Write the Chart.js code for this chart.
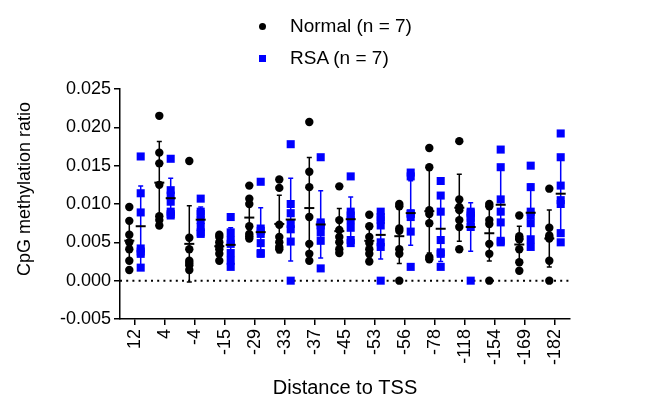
<!DOCTYPE html>
<html>
<head>
<meta charset="utf-8">
<script src="https://cdn.jsdelivr.net/npm/chart.js@4"></script>
<style>
body{margin:0;background:#fff}
#wrap{position:relative;width:649px;height:407px}
#legend{position:absolute;left:259px;top:10px;font:19px "Liberation Sans",Arial,sans-serif;color:#000}
.item{display:flex;align-items:center;height:32px;line-height:32px}
.mark{width:7px;height:7px;margin-right:24px}
</style>
</head>
<body>
<div id="wrap">
<canvas id="chart" width="649" height="407"></canvas>
<div id="legend"></div>
</div>
<script>
const categories = ['12','4','-4','-15','-29','-33','-37','-45','-53','-56','-78','-118','-154','-169','-182']

const seriesNames = ['Normal (n = 7)','RSA (n = 7)']

// one row per category, 7 samples each
const normalValues = [
[0.0096,0.0078,0.0060,0.0050,0.0041,0.0026,0.0014],
[0.0215,0.0167,0.0153,0.0125,0.0084,0.0079,0.0072],
[0.0156,0.0056,0.0041,0.0026,0.0023,0.0020,0.0014],
[0.0060,0.0057,0.0050,0.0045,0.0041,0.0035,0.0026],
[0.0124,0.0107,0.0100,0.0071,0.0061,0.0058,0.0055],
[0.0132,0.0121,0.0073,0.0057,0.0050,0.0044,0.0041],
[0.0207,0.0142,0.0122,0.0083,0.0048,0.0035,0.0026],
[0.0123,0.0079,0.0066,0.0057,0.0050,0.0041,0.0036],
[0.0086,0.0071,0.0057,0.0049,0.0041,0.0035,0.0025],
[0.0100,0.0097,0.0068,0.0065,0.0041,0.0035,0.0000],
[0.0173,0.0148,0.0092,0.0087,0.0075,0.0031,0.0028],
[0.0182,0.0106,0.0096,0.0092,0.0079,0.0070,0.0041],
[0.0100,0.0097,0.0079,0.0074,0.0048,0.0035,0.0000],
[0.0085,0.0058,0.0055,0.0054,0.0041,0.0024,0.0013],
[0.0120,0.0069,0.0059,0.0056,0.0055,0.0026,0.0000]
]

const rsaValues = [
[0.0162,0.0114,0.0089,0.0042,0.0038,0.0035,0.0017],
[0.0159,0.0118,0.0111,0.0103,0.0090,0.0087,0.0085],
[0.0107,0.0090,0.0087,0.0079,0.0070,0.0063,0.0061],
[0.0083,0.0063,0.0053,0.0048,0.0036,0.0026,0.0018],
[0.0129,0.0068,0.0065,0.0061,0.0049,0.0036,0.0035],
[0.0178,0.0100,0.0088,0.0074,0.0067,0.0051,0.0000],
[0.0161,0.0076,0.0073,0.0072,0.0063,0.0052,0.0016],
[0.0136,0.0090,0.0085,0.0079,0.0069,0.0053,0.0049],
[0.0090,0.0083,0.0079,0.0072,0.0050,0.0044,0.0000],
[0.0141,0.0136,0.0088,0.0087,0.0083,0.0064,0.0018],
[0.0130,0.0111,0.0090,0.0053,0.0037,0.0035,0.0018],
[0.0090,0.0088,0.0085,0.0082,0.0075,0.0070,0.0000],
[0.0171,0.0148,0.0106,0.0090,0.0076,0.0052,0.0050],
[0.0150,0.0122,0.0090,0.0085,0.0075,0.0054,0.0044],
[0.0192,0.0161,0.0124,0.0105,0.0100,0.0062,0.0050]
]

const yTicks = [-0.005,0,0.005,0.010,0.015,0.020,0.025]

const font = '"Liberation Sans", Arial, sans-serif'

const groups = [
{values:normalValues, shift:-0.19, color:'#000000', style:'circle', radius:4.2},
{values:rsaValues, shift:0.19, color:'#0000ff', style:'rect', radius:5.7}
]

function points(values, shift){
let out=[]
values.forEach((row,i)=>row.forEach(v=>out.push({x:i+shift, y:v})))
return out
}

function stats(row){
let mean=row.reduce((a,b)=>a+b,0)/row.length
let sd=Math.sqrt(row.reduce((a,b)=>a+(b-mean)**2,0)/(row.length-1))
return {mean, sd}
}

// mean +/- SD drawn through the chart's own scales
const errorBars = {
id:'errorBars',
beforeDatasetsDraw(chart){
let {ctx, scales:{x,y}} = chart
ctx.save()
ctx.lineWidth=1.5
groups.forEach(g=>{
ctx.strokeStyle=g.color
g.values.forEach((row,i)=>{
let s=stats(row)
let px=x.getPixelForValue(i+g.shift)
let top=y.getPixelForValue(s.mean+s.sd)
let bot=y.getPixelForValue(s.mean-s.sd)
ctx.beginPath()
ctx.moveTo(px,top); ctx.lineTo(px,bot)
ctx.moveTo(px-2.5,top); ctx.lineTo(px+2.5,top)
ctx.moveTo(px-2.5,bot); ctx.lineTo(px+2.5,bot)
ctx.stroke()
})
})
ctx.restore()
},
afterDatasetsDraw(chart){
let {ctx, scales:{x,y}} = chart
ctx.save()
ctx.lineWidth=2
ctx.strokeStyle='#000'
groups.forEach(g=>{
g.values.forEach((row,i)=>{
let s=stats(row)
let px=x.getPixelForValue(i+g.shift)
let py=y.getPixelForValue(s.mean)
ctx.beginPath()
ctx.moveTo(px-5,py); ctx.lineTo(px+5,py)
ctx.stroke()
})
})
ctx.restore()
}
}

const datasets = groups.map((g,k)=>({
label:seriesNames[k],
data:points(g.values,g.shift),
pointStyle:g.style,
pointRadius:g.radius,
pointBorderWidth:0,
backgroundColor:g.color,
borderColor:g.color,
order:1
}))

datasets.push({
type:'line',
label:'zero',
data:[{x:-0.5,y:0},{x:14.5,y:0}],
borderColor:'#000',
borderWidth:2,
borderDash:[2,4.2],
pointRadius:0,
order:5
})

new Chart(document.getElementById('chart'),{
type:'scatter',
data:{datasets},
options:{
responsive:false,
animation:false,
layout:{padding:{top:89,right:79,left:0,bottom:0}},
plugins:{legend:{display:false},tooltip:{enabled:false}},
scales:{
x:{
type:'linear',
min:-0.5,
max:14.5,
afterBuildTicks:s=>{s.ticks=categories.map((c,i)=>({value:i}))},
afterFit:s=>{s.height=88},
ticks:{autoSkip:false,minRotation:90,maxRotation:90,padding:4,color:'#000',font:{size:18,family:font},callback:v=>categories[v]},
grid:{drawOnChartArea:false,tickLength:6,color:'#000',lineWidth:1.5},
border:{color:'#000',width:1.5},
title:{display:true,text:'Distance to TSS',color:'#000',font:{size:20,family:font},padding:{top:0,bottom:7}}
},
y:{
min:-0.005,
max:0.025,
afterBuildTicks:s=>{s.ticks=yTicks.map(v=>({value:v}))},
afterFit:s=>{s.width=120},
ticks:{padding:3,color:'#000',font:{size:18,family:font},callback:v=>v.toFixed(3)},
grid:{drawOnChartArea:false,tickLength:6,color:'#000',lineWidth:1.5},
border:{color:'#000',width:1.5},
title:{display:true,text:'      CpG methylation ratio',color:'#000',font:{size:18,family:font},padding:{top:14,bottom:0}}
}
}
},
plugins:[errorBars]
})

// legend built from the same series
const legend=document.getElementById('legend')
groups.forEach((g,k)=>{
let item=document.createElement('div')
item.className='item'
let mark=document.createElement('span')
mark.className='mark'
mark.style.background=g.color
if(g.style==='circle') mark.style.borderRadius='50%'
item.appendChild(mark)
item.appendChild(document.createTextNode(seriesNames[k]))
legend.appendChild(item)
})
</script>
</body>
</html>
